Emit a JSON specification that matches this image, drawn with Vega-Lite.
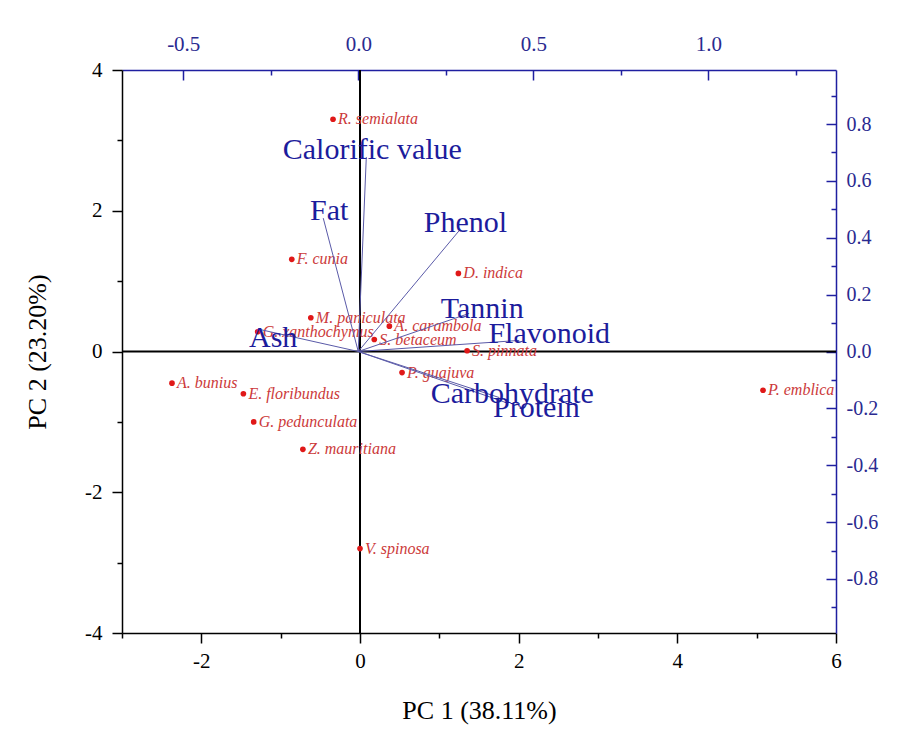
{
  "$schema": "https://vega.github.io/schema/vega-lite/v6.json",
  "width": 714,
  "height": 563,
  "autosize": {"type": "none"},
  "padding": {"left": 122, "top": 70, "right": 68, "bottom": 101},
  "background": "white",
  "config": {"view": {"stroke": null}, "font": "Liberation Serif"},
  "datasets": {
    "scores": [
      {"sample": "R. semialata", "PC1": -0.34, "PC2": 3.30},
      {"sample": "F. cunia", "PC1": -0.86, "PC2": 1.31},
      {"sample": "D. indica", "PC1": 1.24, "PC2": 1.11},
      {"sample": "M. paniculata", "PC1": -0.62, "PC2": 0.48},
      {"sample": "G. xanthochymus", "PC1": -1.29, "PC2": 0.28},
      {"sample": "A. carambola", "PC1": 0.37, "PC2": 0.36},
      {"sample": "S. betaceum", "PC1": 0.18, "PC2": 0.17},
      {"sample": "S. pinnata", "PC1": 1.35, "PC2": 0.01},
      {"sample": "P. guajuva", "PC1": 0.53, "PC2": -0.30},
      {"sample": "A. bunius", "PC1": -2.37, "PC2": -0.45},
      {"sample": "E. floribundus", "PC1": -1.47, "PC2": -0.60},
      {"sample": "G. pedunculata", "PC1": -1.34, "PC2": -1.00},
      {"sample": "Z. mauritiana", "PC1": -0.72, "PC2": -1.39},
      {"sample": "V. spinosa", "PC1": 0.0, "PC2": -2.80},
      {"sample": "P. emblica", "PC1": 5.08, "PC2": -0.55}
    ],
    "loadings": [
      {"variable": "Calorific value", "L1": 0.023, "L2": 0.684},
      {"variable": "Fat", "L1": -0.10, "L2": 0.469},
      {"variable": "Phenol", "L1": 0.289, "L2": 0.426},
      {"variable": "Tannin", "L1": 0.317, "L2": 0.134},
      {"variable": "Flavonoid", "L1": 0.46, "L2": 0.039},
      {"variable": "Carbohydrate", "L1": 0.403, "L2": -0.162},
      {"variable": "Protein", "L1": 0.423, "L2": -0.18},
      {"variable": "Ash", "L1": -0.283, "L2": 0.078}
    ]
  },
  "layer": [
    {
      "data": {"name": "scores"},
      "layer": [
        {
          "data": {"values": [{"z": 0}]},
          "mark": {"type": "rule", "color": "black", "strokeWidth": 2},
          "encoding": {"x": {"field": "z", "type": "quantitative"}}
        },
        {
          "data": {"values": [{"z": 0}]},
          "mark": {"type": "rule", "color": "black", "strokeWidth": 2},
          "encoding": {"y": {"field": "z", "type": "quantitative"}}
        },
        {
          "mark": {"type": "circle", "color": "#e01818", "opacity": 1, "size": 32},
          "encoding": {
            "x": {
              "field": "PC1", "type": "quantitative",
              "scale": {"domain": [-3, 6], "nice": false, "zero": false},
              "axis": {
                "orient": "bottom", "title": "PC 1 (38.11%)", "grid": false,
                "values": [-3, -2, -1, 0, 1, 2, 3, 4, 5, 6],
                "labelExpr": "datum.value % 2 === 0 ? '' + datum.value : ''",
                "domainColor": "black", "domainWidth": 1.5,
                "tickColor": "black", "tickWidth": 1.5,
                "tickSize": {"condition": {"test": "datum.value % 2 === 0", "value": 10}, "value": 5},
                "labelFont": "Liberation Serif", "labelFontSize": 21, "labelColor": "black", "labelPadding": 7,
                "labelFlush": false, "labelOverlap": false,
                "titleFont": "Liberation Serif", "titleFontSize": 26, "titleFontWeight": "normal", "titleColor": "black", "titlePadding": 26
              }
            },
            "y": {
              "field": "PC2", "type": "quantitative",
              "scale": {"domain": [-4, 4], "nice": false, "zero": false},
              "axis": {
                "orient": "left", "title": "PC 2 (23.20%)", "grid": false,
                "values": [-4, -3, -2, -1, 0, 1, 2, 3, 4],
                "labelExpr": "datum.value % 2 === 0 ? '' + datum.value : ''",
                "domainColor": "black", "domainWidth": 1.5,
                "tickColor": "black", "tickWidth": 1.5,
                "tickSize": {"condition": {"test": "datum.value % 2 === 0", "value": 10}, "value": 5},
                "labelFont": "Liberation Serif", "labelFontSize": 21, "labelColor": "black", "labelPadding": 10,
                "labelFlush": false, "labelOverlap": false,
                "titleFont": "Liberation Serif", "titleFontSize": 26, "titleFontWeight": "normal", "titleColor": "black", "titlePadding": 34
              }
            }
          }
        },
        {
          "mark": {"type": "text", "align": "left", "baseline": "middle", "dx": 5, "font": "Liberation Serif", "fontStyle": "italic", "fontSize": 16, "color": "#cc3a3a"},
          "encoding": {
            "x": {"field": "PC1", "type": "quantitative"},
            "y": {"field": "PC2", "type": "quantitative"},
            "text": {"field": "sample"}
          }
        }
      ]
    },
    {
      "data": {"name": "loadings"},
      "resolve": {"axis": {"y": "independent"}},
      "layer": [
        {
          "mark": {"type": "rule", "color": "#5a5aa8", "strokeWidth": 1},
          "encoding": {
            "x": {
              "field": "L1", "type": "quantitative",
              "scale": {"domain": [-0.675, 1.365], "nice": false, "zero": false},
              "axis": {
                "orient": "top", "title": null, "grid": false,
                "values": [-0.5, -0.25, 0, 0.25, 0.5, 0.75, 1, 1.25],
                "format": ".1f",
                "labelExpr": "abs(datum.value * 2 - round(datum.value * 2)) < 1e-6 ? replace(datum.label, '\u2212', '-') : ''",
                "domainColor": "#1f1fa0", "domainWidth": 1.5,
                "tickColor": "#1f1fa0", "tickWidth": 1.5,
                "tickSize": {"condition": {"test": "abs(datum.value * 2 - round(datum.value * 2)) < 1e-6", "value": -10}, "value": -5},
                "labelFont": "Liberation Serif", "labelFontSize": 21, "labelColor": "#2a2a90", "labelPadding": 26,
                "labelFlush": false, "labelOverlap": false
              }
            },
            "x2": {"datum": 0},
            "y": {
              "field": "L2", "type": "quantitative",
              "scale": {"domain": [-0.99, 0.99], "nice": false, "zero": false},
              "axis": {
                "orient": "right", "title": null, "grid": false,
                "values": [-0.8, -0.6, -0.4, -0.2, 0, 0.2, 0.4, 0.6, 0.8],
                "format": ".1f",
                "labelExpr": "replace(datum.label, '\u2212', '-')",
                "domainColor": "#1f1fa0", "domainWidth": 1.5,
                "tickColor": "#1f1fa0", "tickWidth": 1.5,
                "tickSize": -10,
                "labelFont": "Liberation Serif", "labelFontSize": 20, "labelColor": "#2a2a90", "labelPadding": 20,
                "labelFlush": false, "labelOverlap": false
              }
            },
            "y2": {"datum": 0}
          }
        },
        {
          "transform": [{"filter": "indexof(['Calorific value','Fat','Phenol'], datum.variable) >= 0"}],
          "mark": {"type": "text", "align": "center", "baseline": "middle", "dx": 6, "dy": -7, "font": "Liberation Serif", "fontSize": 30, "color": "#1c1c9c"},
          "encoding": {
            "x": {"field": "L1", "type": "quantitative"},
            "y": {
              "field": "L2", "type": "quantitative",
              "axis": {
                "orient": "right", "title": null, "grid": false, "labels": false, "domain": false,
                "values": [-0.9, -0.7, -0.5, -0.3, -0.1, 0.1, 0.3, 0.5, 0.7, 0.9],
                "tickColor": "#1f1fa0", "tickWidth": 1.5, "tickSize": -5
              }
            },
            "text": {"field": "variable"}
          }
        },
        {
          "transform": [{"filter": "indexof(['Tannin','Carbohydrate'], datum.variable) >= 0"}],
          "mark": {"type": "text", "align": "center", "baseline": "middle", "dx": 13, "dy": -4, "font": "Liberation Serif", "fontSize": 30, "color": "#1c1c9c"},
          "encoding": {
            "x": {"field": "L1", "type": "quantitative"},
            "y": {"field": "L2", "type": "quantitative", "axis": null},
            "text": {"field": "variable"}
          }
        },
        {
          "transform": [{"filter": "datum.variable === 'Ash'"}],
          "mark": {"type": "text", "align": "center", "baseline": "middle", "dx": 14, "dy": 9, "font": "Liberation Serif", "fontSize": 30, "color": "#1c1c9c"},
          "encoding": {
            "x": {"field": "L1", "type": "quantitative"},
            "y": {"field": "L2", "type": "quantitative", "axis": null},
            "text": {"field": "variable"}
          }
        },
        {
          "transform": [{"filter": "datum.variable === 'Flavonoid'"}],
          "mark": {"type": "text", "align": "center", "baseline": "middle", "dx": 30, "dy": -6, "font": "Liberation Serif", "fontSize": 30, "color": "#1c1c9c"},
          "encoding": {
            "x": {"field": "L1", "type": "quantitative"},
            "y": {"field": "L2", "type": "quantitative", "axis": null},
            "text": {"field": "variable"}
          }
        },
        {
          "transform": [{"filter": "datum.variable === 'Protein'"}],
          "mark": {"type": "text", "align": "center", "baseline": "middle", "dx": 30, "dy": 5, "font": "Liberation Serif", "fontSize": 30, "color": "#1c1c9c"},
          "encoding": {
            "x": {"field": "L1", "type": "quantitative"},
            "y": {"field": "L2", "type": "quantitative", "axis": null},
            "text": {"field": "variable"}
          }
        }
      ]
    }
  ],
  "resolve": {"scale": {"x": "independent", "y": "independent"}}
}
